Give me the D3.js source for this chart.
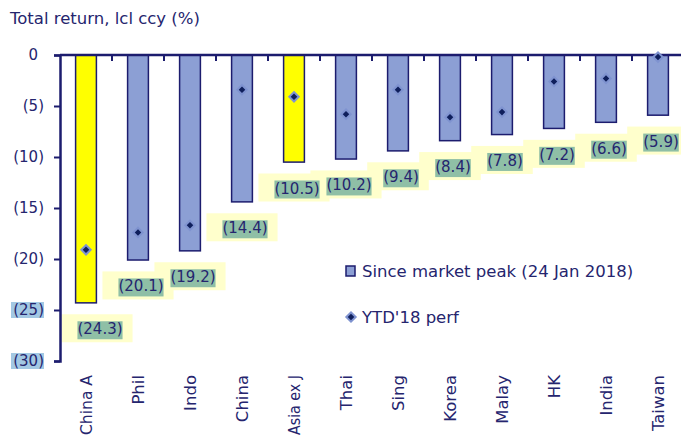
<html>
  <head>
    <script src="https://d3js.org/d3.v7.min.js"></script>
    <style>
      body {
        margin: 0;
        background: #fff;
      }
      text {
        font-family: "DejaVu Sans", sans-serif;
        fill: #25256e;
      }
    </style>
  </head>
  <body>
    <svg id="chart" width="681" height="442"></svg>
    <script>
      // data
      const markets = ["China A", "Phil", "Indo", "China", "Asia ex J", "Thai", "Sing", "Korea", "Malay", "HK", "India", "Taiwan"];
      const sincePeak = [-24.3, -20.1, -19.2, -14.4, -10.5, -10.2, -9.4, -8.4, -7.8, -7.2, -6.6, -5.9];
      const ytd = [-19.1, -17.4, -16.7, -3.4, -4.1, -5.8, -3.4, -6.1, -5.6, -2.6, -2.3, -0.2];
      const highlighted = ["China A", "Asia ex J"];
      const yTicks = [0, -5, -10, -15, -20, -25, -30];
      const shadedTicks = [-25, -30];

      const navy = "#1c1c6e";
      const barBlue = "#8c9fd4";

      const svg = d3.select("svg#chart");

      const margins = { top: 55, left: 60 };

      const xScale = d3
        .scaleBand()
        .domain(markets)
        .range([margins.left, 684])
        .paddingInner(0.6)
        .paddingOuter(0.3);

      const yScale = d3.scaleLinear().domain([0, -30]).range([55, 361]);

      // title
      svg
        .append("text")
        .attr("x", 10)
        .attr("y", 24)
        .style("font-size", "16.5px")
        .text("Total return, lcl ccy (%)");

      // label background boxes (pale yellow first, drawn under everything else)
      const labelLayer = svg.append("g");

      // bars
      svg
        .append("g")
        .selectAll("rect")
        .data(markets)
        .join("rect")
        .attr("x", (d) => xScale(d))
        .attr("y", yScale(0))
        .attr("width", xScale.bandwidth())
        .attr("height", (d, i) => yScale(sincePeak[i]) - yScale(0))
        .attr("fill", (d) => (highlighted.includes(d) ? "#ffff00" : barBlue))
        .attr("stroke", navy)
        .attr("stroke-width", 1.5);

      // y axis
      const yAxis = d3
        .axisLeft(yScale)
        .tickValues(yTicks)
        .tickSize(6)
        .tickFormat("");
      const yG = svg
        .append("g")
        .attr("transform", `translate(${margins.left},0)`)
        .call(yAxis);
      yG.select(".domain").attr("stroke", navy).attr("stroke-width", 2.5);
      yG.selectAll(".tick line").attr("stroke", navy).attr("stroke-width", 2);

      // y tick labels, excel style "0_);(0)"
      const yLab = svg.append("g");
      yTicks.forEach((v) => {
        const y = yScale(v);
        if (shadedTicks.includes(v)) {
          yLab
            .append("rect")
            .attr("x", 11)
            .attr("y", y - 8)
            .attr("width", 33)
            .attr("height", 16)
            .attr("fill", "#a3c8e3");
        }
        const t = yLab
          .append("text")
          .attr("x", 44)
          .attr("y", y)
          .attr("dy", "0.36em")
          .attr("text-anchor", "end")
          .style("font-size", "15px");
        if (v === 0) {
          t.append("tspan").text("0");
          t.append("tspan").text(")").style("fill-opacity", 0);
        } else {
          t.text(`(${-v})`);
        }
      });

      // x axis along zero, ticks between categories
      const bounds = markets.map((d) => xScale(d) - xScale.step() * 0.3);
      const xG = svg.append("g");
      xG.append("line")
        .attr("x1", margins.left)
        .attr("x2", 681)
        .attr("y1", yScale(0))
        .attr("y2", yScale(0))
        .attr("stroke", navy)
        .attr("stroke-width", 2.5);
      xG.selectAll("line.tk")
        .data(bounds.slice(1))
        .join("line")
        .attr("class", "tk")
        .attr("x1", (d) => d)
        .attr("x2", (d) => d)
        .attr("y1", yScale(0))
        .attr("y2", yScale(0) + 6)
        .attr("stroke", navy)
        .attr("stroke-width", 2);

      // category labels, rotated; squeeze the long one so it stays on the page
      svg
        .append("g")
        .selectAll("text")
        .data(markets)
        .join("text")
        .attr(
          "transform",
          (d) => `translate(${xScale(d) + xScale.bandwidth() / 2 + 6},375) rotate(-90)`
        )
        .attr("text-anchor", "end")
        .style("font-size", "16.5px")
        .text((d) => d)
        .each(function () {
          if (this.getComputedTextLength() > 62) {
            d3.select(this)
              .attr("textLength", 60)
              .attr("lengthAdjust", "spacingAndGlyphs");
          }
        });

      // YTD diamonds (square turned 45 degrees)
      const diamond = d3.symbol().type(d3.symbolSquare).size(44);
      const ytdMark = (sel) =>
        sel
          .attr("d", diamond)
          .attr("fill", "#0f1f5c")
          .attr("stroke", "#7f93d0")
          .attr("stroke-width", 2);
      svg
        .append("g")
        .selectAll("path")
        .data(markets)
        .join("path")
        .call(ytdMark)
        .attr(
          "transform",
          (d, i) =>
            `translate(${xScale(d) + xScale.bandwidth() / 2},${yScale(ytd[i])}) rotate(45)`
        );

      // data labels with the two-tone boxes
      const labels = svg.append("g");
      const boxes = [];
      markets.forEach((d, i) => {
        let cx = xScale(d) + xScale.bandwidth() / 2 + 3;
        cx = Math.max(cx, margins.left + 40);
        const cy = yScale(sincePeak[i]) + 26;
        const t = labels
          .append("text")
          .attr("x", cx)
          .attr("y", cy)
          .attr("dy", "0.36em")
          .attr("text-anchor", "middle")
          .style("font-size", "15px")
          .text(`(${(-sincePeak[i]).toFixed(1)})`);
        boxes.push({ t: t, b: t.node().getBBox() });
      });
      boxes.forEach(({ b }) => {
        labelLayer
          .append("rect")
          .attr("x", b.x - 16)
          .attr("y", b.y - 6)
          .attr("width", b.width + 26)
          .attr("height", b.height + 10)
          .attr("fill", "#ffffcc");
      });
      boxes.forEach(({ t, b }) => {
        labels
          .insert("rect", () => t.node())
          .attr("x", b.x)
          .attr("y", b.y + 1)
          .attr("width", b.width)
          .attr("height", b.height)
          .attr("fill", "#8fbfa6");
      });

      // legend
      const legend = svg.append("g");
      legend
        .append("rect")
        .attr("x", 346)
        .attr("y", 266)
        .attr("width", 9)
        .attr("height", 10)
        .attr("fill", barBlue)
        .attr("stroke", navy)
        .attr("stroke-width", 1.5);
      legend
        .append("text")
        .attr("x", 362)
        .attr("y", 271)
        .attr("dy", "0.36em")
        .style("font-size", "16.5px")
        .text("Since market peak (24 Jan 2018)");
      legend
        .append("path")
        .call(ytdMark)
        .attr("transform", "translate(351,317) rotate(45)");
      legend
        .append("text")
        .attr("x", 362)
        .attr("y", 317)
        .attr("dy", "0.36em")
        .style("font-size", "16.5px")
        .text("YTD'18 perf");
    </script>
  </body>
</html>
